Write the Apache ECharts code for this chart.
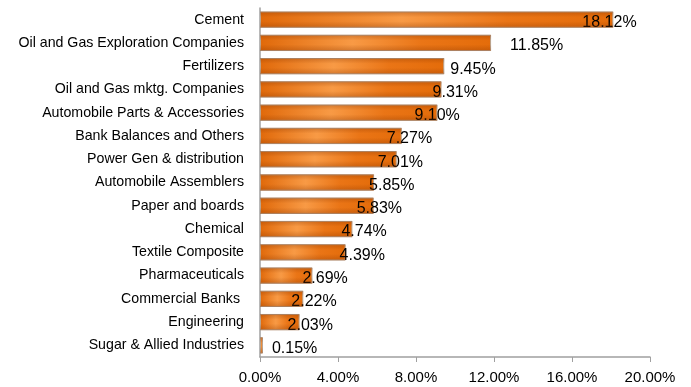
<!DOCTYPE html>
<html><head><meta charset="utf-8">
<script src="https://cdn.jsdelivr.net/npm/echarts@6/dist/echarts.min.js"></script>
<style>html,body{margin:0;padding:0;background:#fff}#c{width:691px;height:387px}</style>
</head><body><div id="c"></div>
<script>
const categories = ["Cement","Oil and Gas Exploration Companies","Fertilizers","Oil and Gas mktg. Companies","Automobile Parts & Accessories","Bank Balances and Others","Power Gen & distribution","Automobile Assemblers","Paper and boards","Chemical","Textile Composite","Pharmaceuticals","Commercial Banks ","Engineering","Sugar & Allied Industries"];
const values = [18.12,11.85,9.45,9.31,9.10,7.27,7.01,5.85,5.83,4.74,4.39,2.69,2.22,2.03,0.15];
const tickValues = [0,4,8,12,16,20];
// label placement styling (offset from bar end, px)
const labelDx = [-31,19,6,-9,-23,-15,-19,-5,-17,-11,-6,-10,-12,-12,9];

const catR = categories.slice().reverse();
const valR = values.slice().reverse();
const dxR = labelDx.slice().reverse();

const chart = echarts.init(document.getElementById('c'));
const font = '"Liberation Sans", Arial, sans-serif';
chart.setOption({
  animation:false,
  grid:{left:260,right:41,top:8,bottom:30,containLabel:false},
  xAxis:{type:'value',min:tickValues[0],max:tickValues[tickValues.length-1],interval:tickValues[1]-tickValues[0],
    axisLine:{show:true,lineStyle:{color:'#a0a0a0',width:1.5}},
    axisTick:{show:true,length:5,lineStyle:{color:'#a0a0a0'}},
    splitLine:{show:false},
    axisLabel:{color:'#000',fontFamily:font,fontSize:15,margin:13,formatter:v=>v.toFixed(2)+'%'}},
  yAxis:{type:'category',data:catR,
    axisLine:{show:true,lineStyle:{color:'#a0a0a0',width:1.5}},
    axisTick:{show:false},
    axisLabel:{color:'#000',fontFamily:font,fontSize:14.2,margin:16}},
  series:[
    {type:'bar',barCategoryGap:'30%',
     itemStyle:{color:new echarts.graphic.LinearGradient(0,0,1,0,[
        {offset:0,color:'#e0690a'},{offset:0.4,color:'#f89a45'},{offset:0.7,color:'#ea7516'},{offset:1,color:'#e46c0a'}]),
        borderColor:'#b9a48f',borderWidth:1},
     data:valR.map((v,i)=>({value:v,label:{offset:[dxR[i],3]}})),
     label:{show:true,position:'right',distance:0,color:'#000',fontFamily:font,fontSize:16,
       formatter:p=>p.value.toFixed(2)+'%'},
     z:2},
    {type:'bar',barGap:'-100%',barCategoryGap:'30%',silent:true,
     itemStyle:{color:new echarts.graphic.LinearGradient(0,0,0,1,[
        {offset:0,color:'rgba(140,55,0,0.35)'},{offset:0.35,color:'rgba(140,55,0,0)'},
        {offset:0.6,color:'rgba(140,55,0,0)'},{offset:1,color:'rgba(140,55,0,0.35)'}])},
     data:valR,z:3}
  ]
});
</script></body></html>
